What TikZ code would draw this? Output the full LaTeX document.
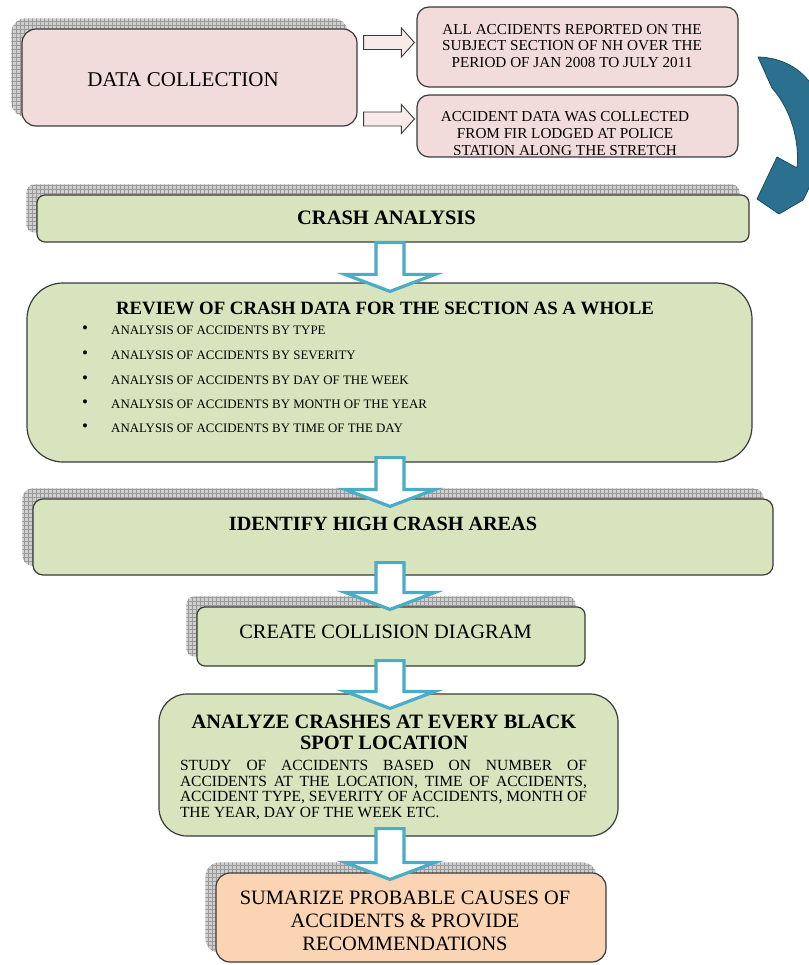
\documentclass[tikz,border=0pt]{standalone}
\usepackage{fontspec}
\setmainfont{Liberation Serif}
\usetikzlibrary{calc,backgrounds,patterns}

\definecolor{pinkfill}{HTML}{F2DCDB}
\definecolor{greenfill}{HTML}{D7E4BD}
\definecolor{peachfill}{HTML}{FBD4B4}
\definecolor{edgegray}{HTML}{3A3A3A}
\definecolor{shadowgray}{HTML}{CFCFCF}
\definecolor{gridgray}{HTML}{9A9A9A}
\definecolor{flowblue}{HTML}{4BACC6}
\definecolor{loopteal}{HTML}{2C7090}
\definecolor{loopedge}{HTML}{1D4A5E}

% light square hatching used for the drop shadows
\pgfdeclarepatternformonly{coarsegrid}{\pgfqpoint{-1pt}{-1pt}}{\pgfqpoint{5pt}{5pt}}{\pgfqpoint{4pt}{4pt}}{%
  \pgfsetlinewidth{0.6pt}%
  \pgfpathmoveto{\pgfqpoint{0pt}{0pt}}\pgfpathlineto{\pgfqpoint{0pt}{4.1pt}}%
  \pgfpathmoveto{\pgfqpoint{0pt}{0pt}}\pgfpathlineto{\pgfqpoint{4.1pt}{0pt}}%
  \pgfusepath{stroke}}

\newcommand\setfs[2]{\fontsize{#1}{#2}\selectfont}

% hollow downward block arrow: #1 = top of shaft, #2 = tip
\newcommand\hollowdown[2]{%
  \draw[hollow] ($(#1)+(-14,0)$) -- ($(#2)+(-14,-17)$) -- ($(#2)+(-45,-17)$)
    -- (#2) -- ($(#2)+(45,-17)$) -- ($(#2)+(14,-17)$) -- ($(#1)+(14,0)$) -- cycle;}
% small block arrow pointing right: #1 = tail, #2 = tip
\newcommand\sideright[2]{%
  \draw[sidearrow] ($(#1)+(0,-7)$) -- ($(#2)+(-13,-7)$) -- ($(#2)+(-13,-14.5)$)
    -- (#2) -- ($(#2)+(-13,14.5)$) -- ($(#2)+(-13,7)$) -- ($(#1)+(0,7)$) -- cycle;}
% hatched drop shadow behind a box, offset up and to the left
\newcommand\backshadow[2]{%
  \path[backshadow, rounded corners=#2] ($(#1.south west)+(-10,-10)$) rectangle ($(#1.north east)+(-10,-10)$);}

\tikzset{
  box/.style={draw=edgegray, line width=1.2pt, inner sep=0pt},
  pinkbox/.style={box, fill=pinkfill},
  greenbox/.style={box, fill=greenfill},
  peachbox/.style={box, fill=peachfill},
  backshadow/.style={fill=shadowgray, postaction={pattern=coarsegrid, pattern color=gridgray}},
  hollow/.style={draw=flowblue, line width=3.2pt, fill=white, line join=miter},
  sidearrow/.style={draw=edgegray, line width=0.9pt, fill=pinkfill!60},
  txt/.style={inner sep=0pt, align=center, text=black},
}

\begin{document}
\begin{tikzpicture}[x=1pt, y=-1pt]
\useasboundingbox (0,0) rectangle (808,965);

% ---------- boxes ----------
\node[pinkbox, rounded corners=14pt, minimum width=335pt, minimum height=97pt] (dc) at (189.5,77.5) {};
\node[pinkbox, rounded corners=12pt, minimum width=321pt, minimum height=80pt] (r1) at (577.5,47) {};
\node[pinkbox, rounded corners=12pt, minimum width=321pt, minimum height=62pt] (r2) at (577.5,126) {};
\node[greenbox, rounded corners=8pt, minimum width=712pt, minimum height=47pt] (crash) at (393,218.5) {};
\node[greenbox, rounded corners=36pt, minimum width=725pt, minimum height=179pt] (review) at (389.5,372.5) {};
\node[greenbox, rounded corners=10pt, minimum width=740pt, minimum height=76pt] (identify) at (403,537) {};
\node[greenbox, rounded corners=8pt, minimum width=388pt, minimum height=59pt] (create) at (391,636.5) {};
\node[greenbox, rounded corners=28pt, minimum width=459pt, minimum height=142pt] (analyze) at (388.5,765) {};
\node[peachbox, rounded corners=14pt, minimum width=390pt, minimum height=89pt] (summary) at (411,917.5) {};

\begin{scope}[on background layer]
  \backshadow{dc}{14pt}
  \backshadow{crash}{8pt}
  \backshadow{identify}{10pt}
  \backshadow{create}{8pt}
  \backshadow{summary}{14pt}
\end{scope}

% ---------- texts ----------
\node[txt, font=\setfs{21}{24}] (dct) at (183,80) {DATA COLLECTION};
\node[txt, font=\setfs{15.2}{16.5}] (r1t) at (572,46) {ALL ACCIDENTS REPORTED ON THE\\SUBJECT SECTION OF NH OVER THE\\PERIOD OF JAN 2008 TO JULY 2011};
\begin{scope}
  \clip[rounded corners=12pt] ($(r2.south west)+(0,-3)$) rectangle (r2.north east);
  \node[txt, font=\setfs{15.2}{17}] (r2t) at (565,134) {ACCIDENT DATA WAS COLLECTED\\FROM FIR LODGED AT POLICE\\STATION ALONG THE STRETCH};
\end{scope}
\node[txt, font=\setfs{20.5}{22}\bfseries] (crasht) at (386.5,218) {CRASH ANALYSIS};
\node[txt, font=\setfs{18.8}{22}\bfseries] (reviewt) at (385,308) {REVIEW OF CRASH DATA FOR THE SECTION AS A WHOLE};
\foreach \y/\item [count=\i] in {330/TYPE, 355/SEVERITY, 380/DAY OF THE WEEK, 404/MONTH OF THE YEAR, 428/TIME OF THE DAY}{
  \node[txt, anchor=west, font=\setfs{17}{15}] (dot\i) at (82,\y) {\textbullet};
  \node[txt, anchor=west, font=\setfs{12.9}{15}] (item\i) at (111,\y) {ANALYSIS OF ACCIDENTS BY \item};
}
\node[txt, font=\setfs{20.2}{23}\bfseries] (identifyt) at (383,524) {IDENTIFY HIGH CRASH AREAS};
\node[txt, font=\setfs{20.4}{23}] (createt) at (385.5,632) {CREATE COLLISION DIAGRAM};
\node[txt, font=\setfs{20.4}{21}\bfseries] (analyzet) at (384,732.5) {ANALYZE CRASHES AT EVERY BLACK\\SPOT LOCATION};
\node[txt, align=left, font=\setfs{15.5}{15.4}] (analyzeb) at (383.5,790) {%
  \makebox[407pt][s]{STUDY OF ACCIDENTS BASED ON NUMBER OF}\\
  \makebox[407pt][s]{ACCIDENTS AT THE LOCATION, TIME OF ACCIDENTS,}\\
  \makebox[407pt][s]{ACCIDENT TYPE, SEVERITY OF ACCIDENTS, MONTH OF}\\
  \makebox[407pt][l]{THE YEAR, DAY OF THE WEEK ETC.}};
\node[txt, font=\setfs{20.4}{23}] (summaryt) at (405,921) {SUMARIZE PROBABLE CAUSES OF\\ACCIDENTS \& PROVIDE\\RECOMMENDATIONS};

% ---------- side arrows ----------
\coordinate (s1a) at ($(dc.east |- r1.west)+(6,-4.5)$);
\coordinate (s1b) at ($(r1.west)+(-2,-4.5)$);
\coordinate (s2a) at ($(dc.east |- r2.west)+(6,-7)$);
\coordinate (s2b) at ($(r2.west)+(-2,-7)$);
\sideright{s1a}{s1b}
\sideright{s2a}{s2b}

% ---------- looping arrow back into the crash analysis ----------
\draw[fill=loopteal, draw=loopedge, line width=0.8pt, line join=round]
  (758,57) .. controls (805,58) and (835,100) .. (820,155)
  .. controls (814,178) and (807,193) .. (803,200)
  -- (779,214) -- (757,199) -- (777,157) -- (797,168)
  .. controls (800,140) and (790,108) .. (772,88) -- cycle;

% ---------- hollow flow arrows ----------
\coordinate (col) at (390,0);
\coordinate (a1s) at (col |- crash.south);
\coordinate (a1t) at ($(col |- review.north)+(0,9)$);
\coordinate (a2s) at ($(col |- review.south)+(0,-5)$);
\coordinate (a2t) at ($(col |- identify.north)+(0,8)$);
\coordinate (a3s) at ($(col |- identify.south)+(0,-13)$);
\coordinate (a3t) at ($(col |- create.north)+(0,3)$);
\coordinate (a4s) at ($(col |- create.south)+(0,-6)$);
\coordinate (a4t) at ($(col |- analyze.north)+(0,15)$);
\coordinate (a5s) at ($(col |- analyze.south)+(0,-8)$);
\coordinate (a5t) at ($(col |- summary.north)+(0,7)$);
\hollowdown{a1s}{a1t}
\hollowdown{a2s}{a2t}
\hollowdown{a3s}{a3t}
\hollowdown{a4s}{a4t}
\hollowdown{a5s}{a5t}
\end{tikzpicture}
\end{document}
